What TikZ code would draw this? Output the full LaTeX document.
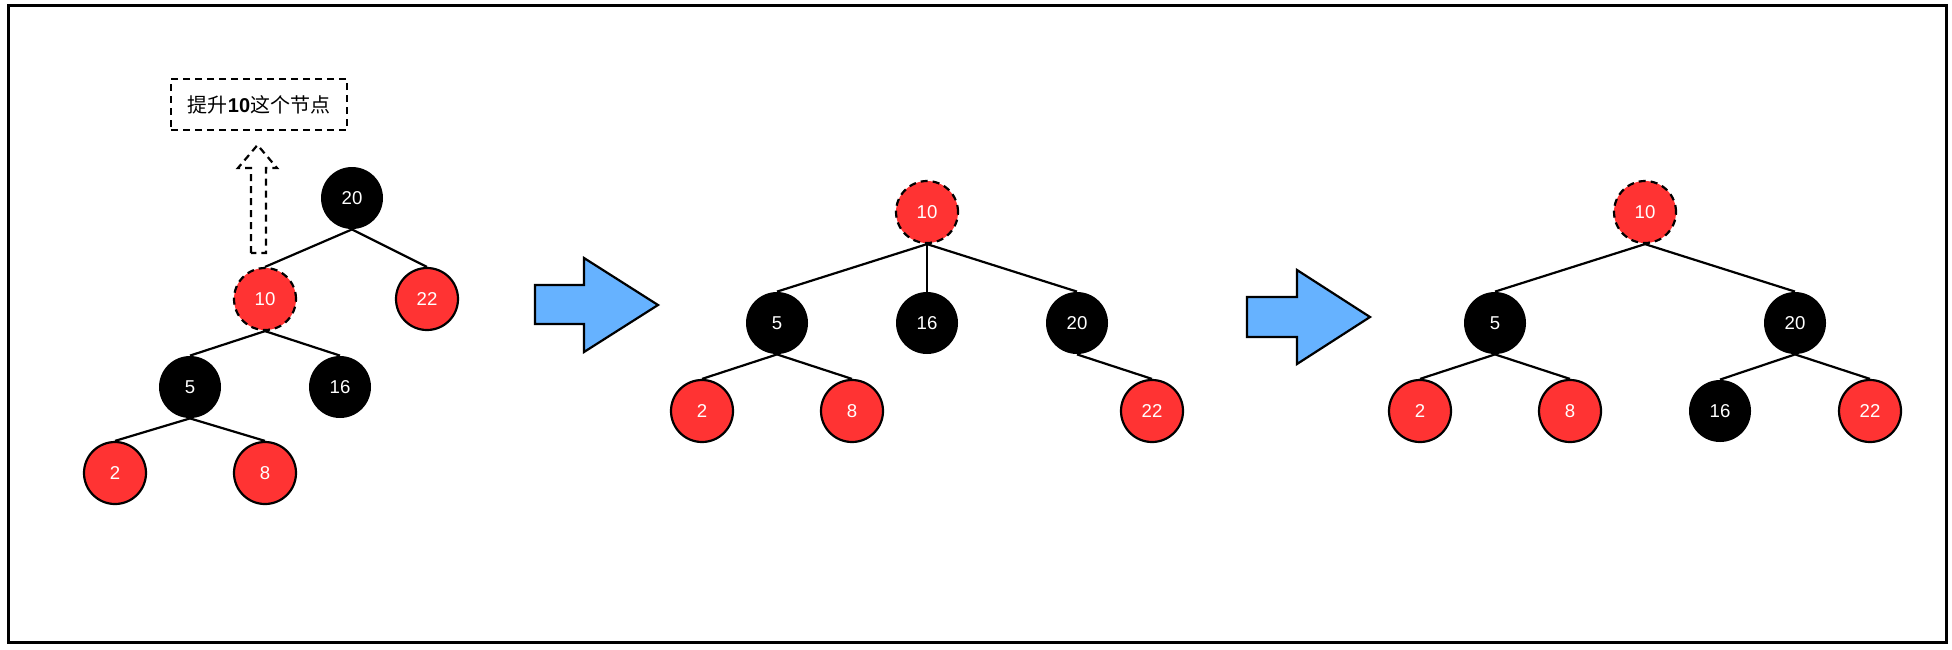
\documentclass[tikz,border=0pt]{standalone}
\usepackage{fontspec}
\setmainfont{Liberation Sans}
\newfontfamily\cjk{Noto Sans CJK SC}
\usepackage{tikz}
\usetikzlibrary{positioning}
\definecolor{nodered}{RGB}{255,51,51}
\definecolor{arrowblue}{RGB}{102,178,255}
\tikzset{
  rbnode/.style={circle,minimum size=31pt,inner sep=0pt,text=white,font=\fontsize{9.3}{10}\selectfont},
  blacknode/.style={rbnode,fill=black},
  rednode/.style={rbnode,fill=nodered,draw=black,line width=1.1pt},
  risenode/.style={rednode,dash pattern=on 3.5pt off 2.5pt},
  edge/.style={line width=1.1pt},
  bigarrow/.style={fill=arrowblue,draw=black,line width=1.1pt},
}

\begin{document}
\begin{tikzpicture}[x=0.5pt,y=-0.5pt]
\useasboundingbox (0,0) rectangle (1952,649);
\draw[line width=1.5pt] (8,5) rectangle (1946,642);
% tree before
\node[blacknode] (a20) at (352,198) {20};
\node[risenode] (a10) at (265,299) {10};
\node[rednode] (a22) at (427,299) {22};
\node[blacknode] (a5) at (190,387) {5};
\node[blacknode] (a16) at (340,387) {16};
\node[rednode] (a2) at (115,473) {2};
\node[rednode] (a8) at (265,473) {8};
\draw[edge] (a20.south) -- (a10.north);
\draw[edge] (a20.south) -- (a22.north);
\draw[edge] (a10.south) -- (a5.north);
\draw[edge] (a10.south) -- (a16.north);
\draw[edge] (a5.south) -- (a2.north);
\draw[edge] (a5.south) -- (a8.north);
% hint
\node[draw,dash pattern=on 3.5pt off 2.5pt,line width=1.1pt,minimum width=88pt,minimum height=25.5pt,inner sep=0pt] (hint) at (259,104.5) {\cjk 提升{\rmfamily\bfseries 10}这个节点};
\draw[dash pattern=on 3.5pt off 2.5pt,line width=1.1pt] (251,253) -- (251,168) -- (238,168) -- (257.5,145) -- (277,168) -- (266,168) -- (266,253) -- cycle;
% first step
\draw[bigarrow] (535,285) -- (584,285) -- (584,258) -- (658,305) -- (584,352) -- (584,324) -- (535,324) -- cycle;
\node[risenode] (b10) at (927,212) {10};
\node[blacknode] (b5) at (777,323) {5};
\node[blacknode] (b16) at (927,323) {16};
\node[blacknode] (b20) at (1077,323) {20};
\node[rednode] (b2) at (702,411) {2};
\node[rednode] (b8) at (852,411) {8};
\node[rednode] (b22) at (1152,411) {22};
\draw[edge] (b10.south) -- (b5.north);
\draw[edge] (b10.south) -- (b16.north);
\draw[edge] (b10.south) -- (b20.north);
\draw[edge] (b5.south) -- (b2.north);
\draw[edge] (b5.south) -- (b8.north);
\draw[edge] (b20.south) -- (b22.north);
% second step
\draw[bigarrow] (1247,297) -- (1297,297) -- (1297,270) -- (1370,317) -- (1297,364) -- (1297,337) -- (1247,337) -- cycle;
\node[risenode] (c10) at (1645,212) {10};
\node[blacknode] (c5) at (1495,323) {5};
\node[blacknode] (c20) at (1795,323) {20};
\node[rednode] (c2) at (1420,411) {2};
\node[rednode] (c8) at (1570,411) {8};
\node[blacknode] (c16) at (1720,411) {16};
\node[rednode] (c22) at (1870,411) {22};
\draw[edge] (c10.south) -- (c5.north);
\draw[edge] (c10.south) -- (c20.north);
\draw[edge] (c5.south) -- (c2.north);
\draw[edge] (c5.south) -- (c8.north);
\draw[edge] (c20.south) -- (c16.north);
\draw[edge] (c20.south) -- (c22.north);
\end{tikzpicture}
\end{document}
